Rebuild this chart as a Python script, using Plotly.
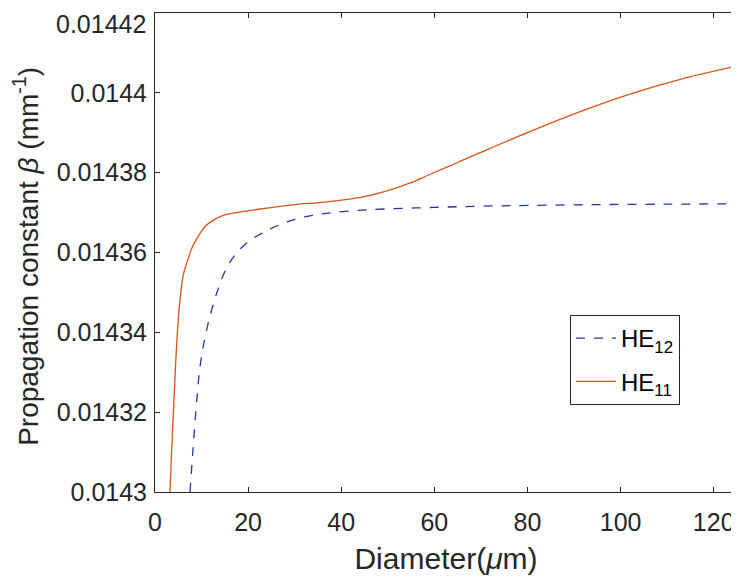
import plotly.graph_objects as go

# HE11 (solid orange)
he11_x = [3.22, 3.58, 3.94, 4.3, 4.8, 5.37, 6.08, 7.16, 8.06, 9.5, 10.9, 13.1, 14.7,
          18.1, 22.6, 30, 35.4, 40, 45, 50, 55, 59.1, 64.5, 69.8, 80.5, 91.3, 102,
          112.8, 125]
he11_y = [0.0143, 0.0143105, 0.0143197, 0.0143289, 0.0143398, 0.0143481, 0.0143544,
          0.0143586, 0.0143615, 0.0143645, 0.0143667, 0.0143685, 0.0143693,
          0.0143701, 0.0143709, 0.014372, 0.0143725, 0.0143731, 0.014374, 0.0143755,
          0.0143775, 0.0143796, 0.0143823, 0.014385, 0.0143903, 0.0143953, 0.0143997,
          0.0144034, 0.0144067]

# HE12 (dashed blue)
he12_x = [7.52, 8.1, 8.8, 9.67, 10.7, 11.8, 13.25, 14.7, 16.1, 18.3, 20.4, 22.6, 24.7,
          29.7, 35.4, 42, 49.4, 60, 70, 80.5, 95, 110, 125]
he12_y = [0.0143, 0.0143097, 0.0143206, 0.0143314, 0.0143385, 0.014344,
          0.0143498, 0.0143544, 0.0143576, 0.0143609, 0.014363, 0.0143646,
          0.0143659, 0.0143682, 0.0143696, 0.0143704, 0.0143709, 0.0143713,
          0.0143716, 0.0143718, 0.014372, 0.0143721, 0.0143722]

x_ticks = [0, 20, 40, 60, 80, 100, 120]
y_ticks = [0.0143, 0.01432, 0.01434, 0.01436, 0.01438, 0.0144, 0.01442]
y_tick_labels = ["0.0143", "0.01432", "0.01434", "0.01436", "0.01438", "0.0144", "0.01442"]

FONT = "Liberation Sans, Arial, sans-serif"
INK = "#262626"

fig = go.Figure()
fig.add_trace(go.Scatter(x=he12_x, y=he12_y, mode="lines", name="HE<sub>12</sub>",
                         legendgroup="a",
                         line=dict(color="#2038A0", width=1.3, dash="dash",
                                   shape="spline", smoothing=1.0)))
fig.add_trace(go.Scatter(x=he11_x, y=he11_y, mode="lines", name="HE<sub>11</sub>",
                         legendgroup="b",
                         line=dict(color="#D95319", width=1.3,
                                   shape="spline", smoothing=1.0)))

axis_common = dict(showline=True, linecolor=INK, linewidth=1, mirror="allticks",
                   ticks="inside", ticklen=5, tickcolor=INK, showgrid=False,
                   zeroline=False, automargin=False, ticklabeloverflow="allow",
                   tickfont=dict(family=FONT, size=25, color=INK))

# the topmost tick label sits at the very top edge of the page; draw it as an
# annotation nudged down a few pixels so that it is not clipped
shown_text = y_tick_labels[:-1] + [""]

eps = 1e-10
fig.update_layout(
    width=731, height=571,
    margin=dict(l=147, r=2, t=5, b=87),
    paper_bgcolor="white", plot_bgcolor="white",
    font=dict(family=FONT, color=INK),
    xaxis=dict(range=[0 - 1e-6, 125], tickvals=x_ticks, ticklabelstandoff=8,
               title=dict(text="Diameter(<i>μ</i>m)", font=dict(family=FONT, size=30, color=INK),
                          standoff=12),
               **axis_common),
    yaxis=dict(range=[0.0143 - eps, 0.01442 + eps], tickvals=y_ticks, ticktext=shown_text,
               ticklabelstandoff=2,
               title=dict(text="Propagation constant <i>β</i> (mm<sup>-1</sup>)&nbsp;",
                          font=dict(family=FONT, size=28, color=INK), standoff=12),
               **axis_common),
    legend=dict(x=0.713, y=0.3695, xanchor="left", yanchor="top",
                bgcolor="white", bordercolor=INK, borderwidth=1,
                font=dict(family=FONT, size=24, color="black"),
                itemwidth=40, tracegroupgap=9),
    annotations=[dict(text=y_tick_labels[-1], x=0, xref="paper", y=y_ticks[-1], yref="y",
                      xanchor="right", yanchor="top", xshift=-8, yshift=4,
                      showarrow=False, borderpad=0,
                      font=dict(family=FONT, size=25, color=INK))],
    showlegend=True,
)

fig.write_html("out.html")
